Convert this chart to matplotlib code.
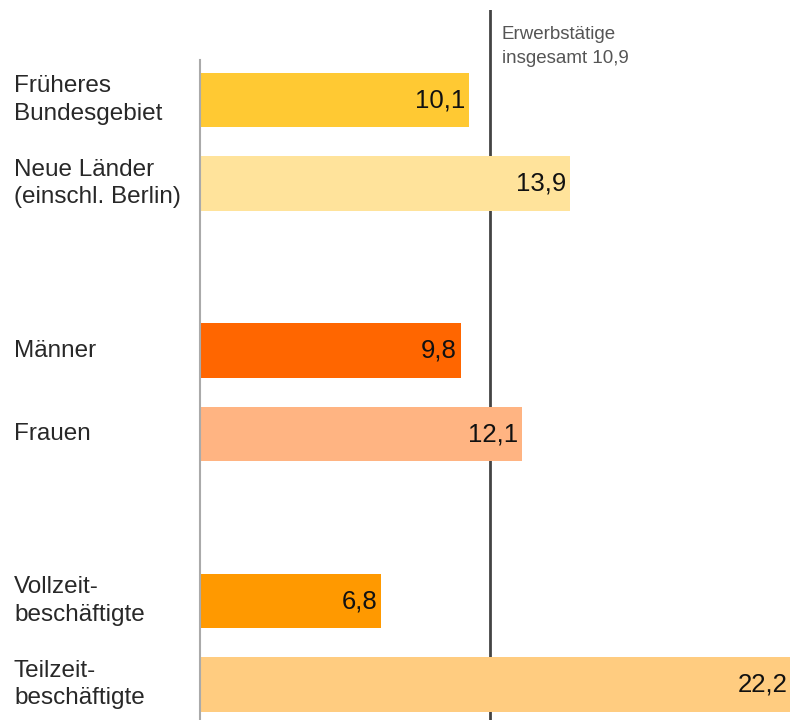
import matplotlib.pyplot as plt
from matplotlib.transforms import blended_transform_factory

plt.rcParams['font.family'] = ['Liberation Sans', 'DejaVu Sans']

labels = ['Früheres\nBundesgebiet', 'Neue Länder\n(einschl. Berlin)',
          'Männer', 'Frauen',
          'Vollzeit-\nbeschäftigte', 'Teilzeit-\nbeschäftigte']
values = [10.1, 13.9, 9.8, 12.1, 6.8, 22.2]
positions = [0, 1, 3, 4, 6, 7]
colors = ['#FFC933', '#FFE39B', '#FF6600', '#FFB482', '#FF9900', '#FFCC80']
total = 10.9

fig = plt.figure(figsize=(7.9, 7.2), dpi=100)
ax = fig.add_axes([200/790, 0, 590/790, 710/720])

# reference line behind the bars
ax.axvline(total, color='#444444', lw=2, zorder=1)
ax.barh(positions, values, height=0.65, color=colors, zorder=2)
ax.set_xlim(0, 22.15)
ax.set_ylim(7.425, -1.078)

# left axis line (starts a bit below the top)
ax.plot([0, 0], [-0.48, 7.425], color='#aaaaaa', lw=1.5, clip_on=False, zorder=3)
ax.text(total + 0.42, -0.89, 'Erwerbstätige\ninsgesamt ' + f'{total}'.replace('.', ','),
        va='top', ha='left', fontsize=13.5, color='#555555', linespacing=1.55)

for p, v in zip(positions, values):
    ax.text(v - 0.15, p, f'{v}'.replace('.', ','), ha='right', va='center',
            fontsize=18.5, color='#111111', zorder=4)

trans = blended_transform_factory(ax.transAxes, ax.transData)
for p, lab in zip(positions, labels):
    ax.text(-186/590, p, lab, transform=trans, ha='left', va='center',
            fontsize=17.5, color='#282828', linespacing=1.3)

ax.axis('off')
fig.savefig('out.png', dpi=100)
